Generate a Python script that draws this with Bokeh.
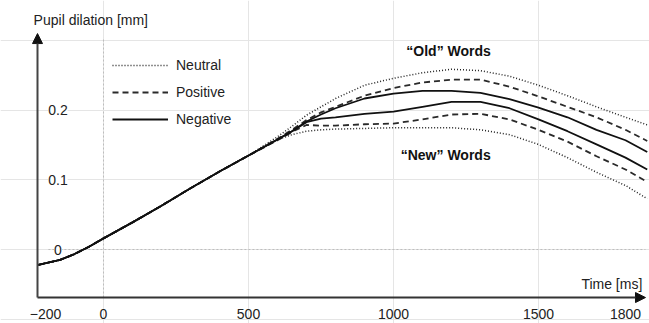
from bokeh.plotting import figure
from bokeh.models import Range1d, Arrow, NormalHead, Label, Legend, LegendItem
from bokeh.embed import file_html
from bokeh.resources import INLINE
from bokeh.core.properties import value

# ---------------- data ----------------
time_ms = [-225, -150, -100, -50, 0, 100, 200, 300, 400, 500,
           600, 650, 700, 750, 800, 900, 1000, 1100, 1200, 1300,
           1400, 1500, 1600, 1700, 1800, 1875]

# common rising part (all conditions overlap up to ~550 ms)
rise = [-0.022, -0.015, -0.0065, 0.004, 0.016, 0.039, 0.063, 0.088, 0.112, 0.135]

neutral_old = rise + [0.162, 0.177, 0.193, 0.205, 0.217, 0.236, 0.246, 0.254, 0.259, 0.257,
                      0.249, 0.236, 0.221, 0.205, 0.190, 0.179]
positive_old = rise + [0.159, 0.172, 0.186, 0.197, 0.205, 0.221, 0.232, 0.240, 0.244, 0.244,
                       0.234, 0.220, 0.205, 0.190, 0.172, 0.156]
negative_old = rise + [0.158, 0.170, 0.184, 0.194, 0.203, 0.217, 0.224, 0.228, 0.228, 0.225,
                       0.216, 0.204, 0.190, 0.172, 0.157, 0.140]
negative_new = rise + [0.158, 0.170, 0.183, 0.188, 0.190, 0.195, 0.198, 0.205, 0.212, 0.212,
                       0.203, 0.187, 0.170, 0.151, 0.132, 0.115]
positive_new = rise + [0.157, 0.169, 0.179, 0.178, 0.178, 0.180, 0.181, 0.187, 0.194, 0.195,
                       0.187, 0.172, 0.155, 0.134, 0.115, 0.097]
neutral_new = rise + [0.158, 0.165, 0.170, 0.172, 0.173, 0.174, 0.175, 0.175, 0.175, 0.172,
                      0.165, 0.151, 0.132, 0.111, 0.092, 0.073]

x_ticks = [-200, 0, 500, 1000, 1500, 1800]
x_tick_labels = ["\u2212200", "0", "500", "1000", "1500", "1800"]
y_ticks = [0.0, 0.1, 0.2]
y_tick_labels = ["0", "0.1", "0.2"]
legend_labels = ["Neutral", "Positive", "Negative"]

# ---------------- layout constants ----------------
FONT = "Liberation Sans"
X0, X1 = -355.2, 1882.8
Y0, Y1 = -0.1063, 0.3578
AXIS_T = -227.6      # position of the vertical axis (time)
AXIS_V = -0.069      # position of the horizontal axis (value)

p = figure(width=649, height=323, x_range=Range1d(X0, X1), y_range=Range1d(Y0, Y1),
           x_axis_location=None, y_axis_location=None, toolbar_location=None,
           output_backend="svg", min_border=0, outline_line_color=None)
p.background_fill_color = "white"
p.border_fill_color = "white"

# reference lines
p.line([0, 0], [AXIS_V, 0.3046], line_color="#bdbdbd", line_width=1, line_dash="2 2")
p.line([-190, 1869], [0, 0], line_color="#bdbdbd", line_width=1, line_dash="2 2")

# axes as arrows
p.add_layout(Arrow(x_start=AXIS_T, y_start=AXIS_V, x_end=1869, y_end=AXIS_V,
                   line_color="#333333", line_width=2,
                   end=NormalHead(size=10, fill_color="#111111", line_color="#111111")))
p.add_layout(Arrow(x_start=AXIS_T, y_start=AXIS_V, x_end=AXIS_T, y_end=0.3103,
                   line_color="#444444", line_width=2,
                   end=NormalHead(size=10, fill_color="#111111", line_color="#111111")))

# curves
dot = dict(line_dash="1 2", line_width=1.5, line_color="#222222")
dash = dict(line_dash="6 4", line_width=1.8, line_color="#2a2a2a")
solid = dict(line_width=1.8, line_color="#111111")

r_no = p.line(time_ms, neutral_old, **dot)
p.line(time_ms, neutral_new, **dot)
r_po = p.line(time_ms, positive_old, **dash)
p.line(time_ms, positive_new, **dash)
r_ne = p.line(time_ms, negative_old, **solid)
p.line(time_ms, negative_new, **solid)

# tick labels
p.text(x=x_ticks, y=[-0.0925] * len(x_ticks), text=x_tick_labels,
       text_align="center", text_baseline="middle",
       text_font=value(FONT), text_font_size="14px", text_color="#222222")
for v, lab in zip(y_ticks, y_tick_labels):
    p.add_layout(Label(x=-157, y=v, text=lab, text_align="center", text_baseline="middle",
                       text_font=FONT, text_font_size="14px", text_color="#222222",
                       background_fill_color="white"))

# axis titles
p.add_layout(Label(x=-241, y=0.3305, text="Pupil dilation [mm]", text_align="left",
                   text_baseline="middle", text_font=FONT, text_font_size="14px",
                   text_color="#222222"))
p.add_layout(Label(x=1858, y=-0.0489, text="Time [ms]", text_align="right",
                   text_baseline="middle", text_font=FONT, text_font_size="14px",
                   text_color="#222222"))

# group annotations
p.add_layout(Label(x=1190, y=0.2859, text="\u201cOld\u201d Words", text_align="center",
                   text_baseline="middle", text_font=FONT, text_font_size="14px",
                   text_font_style="bold", text_color="#111111"))
p.add_layout(Label(x=1180, y=0.1351, text="\u201cNew\u201d Words", text_align="center",
                   text_baseline="middle", text_font=FONT, text_font_size="14px",
                   text_font_style="bold", text_color="#111111"))

legend = Legend(items=[LegendItem(label=legend_labels[0], renderers=[r_no]),
                       LegendItem(label=legend_labels[1], renderers=[r_po]),
                       LegendItem(label=legend_labels[2], renderers=[r_ne])],
                location=(112, 194), glyph_width=56, glyph_height=20, label_height=20,
                spacing=7, padding=0, margin=0, label_standoff=8,
                border_line_color=None, background_fill_alpha=0,
                label_text_font=FONT, label_text_font_size="14px",
                label_text_color="#222222")
p.add_layout(legend)

open("out.html", "w").write(file_html(p, INLINE))
